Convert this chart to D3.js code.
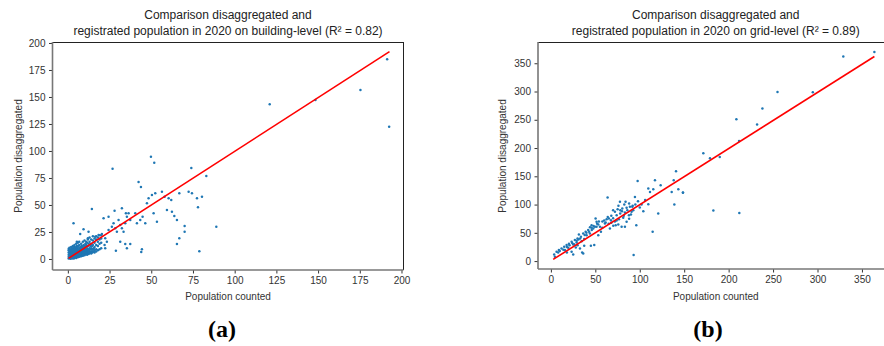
<!DOCTYPE html>
<html>
<head>
<meta charset="utf-8">
<script src="https://cdn.jsdelivr.net/npm/d3@7"></script>
<style>
  body { margin: 0; background: #fff; }
  svg { display: block; }
</style>
</head>
<body>
<div id="chart"></div>
<script>
// ---- data ----
const buildingTitle = ['Comparison disaggregated and', 'registrated population in 2020 on building-level (R\u00b2 = 0.82)'];
const gridTitle = ['Comparison disaggregated and', 'registrated population in 2020 on grid-level (R\u00b2 = 0.89)'];
const xLabel = 'Population counted';
const yLabel = 'Population disaggregated';
const captions = ['(a)', '(b)'];

const buildingXTicks = [0, 25, 50, 75, 100, 125, 150, 175, 200];
const buildingYTicks = [0, 25, 50, 75, 100, 125, 150, 175, 200];
const gridXTicks = [0, 50, 100, 150, 200, 250, 300, 350];
const gridYTicks = [0, 50, 100, 150, 200, 250, 300, 350];

// [counted, disaggregated]
const buildingPoints = [
  [0.5,0.5],[0.5,2],[0.5,4],[0.5,6],[0.5,8],[0.5,9.5],
  [1,1],[1,3],[1,5],[1,7],[1,9],[1,10.5],
  [1.5,0.3],[1.5,2.5],[1.5,4.5],[1.5,6.5],[1.5,8.5],
  [2,1],[2,3],[2,5],[2,7],[2,9],[2,11],
  [2.5,0.5],[2.5,2],[2.5,4],[2.5,6],[2.5,8],[2.5,10],
  [3,1.5],[3,3.5],[3,5.5],[3,7.5],[3,9.5],[3,12],
  [3.5,0.5],[3.5,2.5],[3.5,4.5],[3.5,6.5],[3.5,8.5],[3.5,10.5],
  [4,1],[4,3],[4,5],[4,7],[4,9],[4,11],[4,13],
  [4.5,2],[4.5,4],[4.5,6],[4.5,8],[4.5,10],
  [5,1],[5,3],[5,5],[5,7],[5,9],[5,11],[5,14],
  [5.5,2],[5.5,4],[5.5,6],[5.5,8],[5.5,10],[5.5,12],
  [6,1.5],[6,3],[6,5],[6,7],[6,9],[6,11],[6,15],
  [6.5,2.5],[6.5,4.5],[6.5,6.5],[6.5,8.5],[6.5,12.5],
  [7,2],[7,4],[7,6],[7,8],[7,10],[7,13],
  [7.5,3],[7.5,5],[7.5,7],[7.5,9],[7.5,11],
  [8,2.5],[8,4.5],[8,6.5],[8,8.5],[8,10.5],[8,14],
  [8.5,3.5],[8.5,5.5],[8.5,7.5],[8.5,9.5],[8.5,12],
  [9,3],[9,5],[9,7],[9,9],[9,11],[9,16],
  [9.5,4],[9.5,6],[9.5,8],[9.5,10],[9.5,13],
  [10,3.5],[10,5.5],[10,7.5],[10,9.5],[10,12],[10,17],
  [10.5,4.5],[10.5,6.5],[10.5,8.5],[10.5,11],[10.5,14],
  [11,5],[11,7],[11,9],[11,13],[11,16],
  [11.5,4],[11.5,6],[11.5,8],[11.5,10],[11.5,15],
  [12,5],[12,7],[12,9],[12,12],[12,18],
  [12.5,4.5],[12.5,6.5],[12.5,8.5],[12.5,14],
  [13,5.5],[13,7.5],[13,10],[13,16],[13,20],
  [13.5,6],[13.5,9],[13.5,12],
  [14,5],[14,7],[14,10],[14,14],[14,18],
  [14.5,6],[14.5,8.5],[14.5,12],
  [15,6.5],[15,9],[15,13],[15,17],[15,21],
  [15.5,7],[15.5,10],
  [16,6],[16,8],[16,11],[16,15],[16,19],
  [17,7],[17,9],[17,13],[17,18],[17,21],
  [18,8],[18,12],[18,16],[18,20],
  [19,9],[19,14],[19,18],[19,22],
  [20,10],[20,15],[20,19],[20,22],
  [7.4,23.1],[9.4,27.5],[12.4,25.3],[12,19.1],[5.4,16],[6.8,16],
  [16.4,20.6],[18.4,22.2],[20.4,23.1],[22.4,19.1],[23.4,16],[22,13],[22.4,9.9],
  [24.4,26.9],[26.4,29.9],[27.4,33],[28.4,28.4],[29.4,25.3],[30.4,36.1],[31.4,31.5],
  [32.4,28.4],[33.4,25.3],[34.4,33],[35.4,39.2],[36.4,42.3],[37.4,36.1],
  [24.4,39.2],[21.4,37.7],[28,44.7],[32.4,46.9],[34.8,42.3],
  [31.4,16],[34.4,13.9],[35.4,9.9],[37.4,13.9],[28.8,7.7],
  [40.4,42.3],[41.4,33],[43.4,36.1],[44.8,39.2],[46.4,33],[47.4,51.6],[48.4,56.2],
  [50.4,59.3],[51.4,42.3],[52.4,60.8],[53.4,34.5],[44.4,9],[44,6.5],
  [56.4,62.3],[58,57.7],[60.4,56.2],[62,54.6],
  [59.4,45.4],[62.4,43.8],[63.8,39.8],[65.4,36.1],[66.8,60.8],[72.4,62.3],[74.4,60.8],
  [77.4,56.2],[80.4,57.7],[78,47.9],
  [70,30.5],[70,25.3],[66.8,19.1],[65.4,13.9],[78.8,7.1],
  [42.4,71.3],[43.8,66.7],[49.8,94.7],[51.8,89.2],[26.8,83.6],[74,84.3],[83,76.9],
  [89,29.9],[14.4,46.3],[3.4,33],
  [121,143.2],[148.4,147.2],[175.4,156.5],[191.4,184.9],[192.6,122.5]
];

const gridPoints = [
  [3.7,11.8],[4.5,7.6],[6.4,16.4],[8.2,15.4],[9,19.4],[12,22.4],[15,25.3],[15.8,19.4],
  [17.7,28.3],[19.5,23.5],[20.3,30.6],[23.3,34.1],[25.1,29.5],[27,37.1],[28.9,33],
  [30,40.1],[31.5,47.2],[33.8,42.9],[34.6,35.3],[36.4,48.9],[37.5,38.9],[39.1,51.8],
  [40.2,45.9],[42,54.8],[43.9,48.9],[45.8,58.8],[47.7,57.8],[49.5,60.6],[50.3,75.4],
  [51.4,69.4],[53.3,64.8],[45.8,63.6],[51.4,60.6],[55.2,60.6],[57.8,58.8],[60.8,66.6],
  [56.3,51.8],[53.3,45.9],[48.8,28.3],[45,27.1],[35.2,15.4],[25.1,11.8],[23.3,16.4],
  [32.7,22.4],[37.5,27.1],[36.4,13.6],
  [10,18],[14,20],[18,25],[21,28],[24,32],[26,30],[29,36],[31,38],[33,40],[38,46],
  [40,50],[43,52],[46,55],[48,62],[52,66],[54,70],[44,60],[30,28],[28,24],[18,15],
  [58,70],[60,72],[64,78],[68,80],[70,76],[72,70],[74,72],[78,84],[80,88],[82,80],
  [86,90],[88,102],[92,98],[95,100],[98,106],[100,95],[102,100],[104,88],[106,108],
  [65,66],[68,68],[70,90],[76,98],[84,105],[88,75],
  [63.8,112.5],[77.7,104.8],[82.6,100.2],[85.2,94.2],[88.9,96],[90.8,87.1],[87.8,81.3],
  [83.3,86],[80.3,93.1],[78.1,90.1],[75.1,91.9],[72.1,87.1],[74,81.3],[76.6,74.2],
  [81.4,76.5],[85.2,69.4],[79.6,60.6],[72.9,63.6],[67.6,72.4],[65.3,75.4],[62.7,74.2],
  [61.6,68.4],[66.4,57.8],[70.2,62.4],[75.8,64.8],[83.3,60.6],[90.1,82.5],[92.7,90.1],
  [97.6,141.9],[94.6,113.6],[91.6,96],[96.1,63.6],[93.1,10.6],
  [109.6,100.7],[114.5,51.8],[120.8,84.2],[117.1,143],[109.6,128.4],[115.2,127.2],
  [111.5,122.4],[123.5,134.3],
  [140.8,159],[138.2,143],[135.9,122.4],[143.4,127.2],[148.6,121.4],[138.9,100.2],
  [148.6,121],[171.5,191],[179,182],[190,184],[182.8,89.5],[212,85],
  [208.7,251],[232,241.5],[211.7,212.5],[238,270],[255,299],[294.7,298.6],
  [329,362],[364,370]
];

// regression lines: [start, end]
const buildingFit = [[0.4, 0.6], [192.8, 192]];
const gridFit = [[2.6, 3], [364, 362]];

// ---- drawing ----
const W = 884, H = 346;
const svg = d3.select('#chart').append('svg')
    .attr('width', W).attr('height', H)
    .style('font-family', '"Liberation Sans", Arial, Helvetica, sans-serif');

const panels = [
  {title: buildingTitle, points: buildingPoints, fit: buildingFit,
   xTicks: buildingXTicks, yTicks: buildingYTicks,
   xDomain: [-9.2, 201.2], yDomain: [-10.2, 200.9],
   left: 52.5, right: 403.5, top: 42, bottom: 270, yLabelX: 18, caption: captions[0], capX: 222},
  {title: gridTitle, points: gridPoints, fit: gridFit,
   xTicks: gridXTicks, yTicks: gridYTicks,
   xDomain: [-14.5, 385.5], yDomain: [-14, 387.6],
   left: 538, right: 893.5, top: 42, bottom: 269, yLabelX: 502, caption: captions[1], capX: 708}
];

panels.forEach(function(p) {
  const x = d3.scaleLinear().domain(p.xDomain).range([p.left, p.right]);
  const y = d3.scaleLinear().domain(p.yDomain).range([p.bottom, p.top]);
  const g = svg.append('g');
  const cx = (p.left + p.right) / 2;

  // points
  g.append('g').selectAll('circle')
      .data(p.points)
      .enter()
      .append('circle')
      .attr('cx', d => x(d[0]))
      .attr('cy', d => y(d[1]))
      .attr('r', 1.25)
      .attr('fill', '#1f77b4');

  // fit line
  const line = d3.line().x(d => x(d[0])).y(d => y(d[1]));
  g.append('path')
      .attr('d', line(p.fit))
      .attr('fill', 'none')
      .attr('stroke', '#ff0000')
      .attr('stroke-width', 1.6);

  // axes
  const xAxis = g.append('g')
      .attr('transform', 'translate(0,' + p.bottom + ')')
      .call(d3.axisBottom(x).tickValues(p.xTicks).tickSize(3.5).tickPadding(3.5));
  const yAxis = g.append('g')
      .attr('transform', 'translate(' + p.left + ',0)')
      .call(d3.axisLeft(y).tickValues(p.yTicks).tickSize(3.5).tickPadding(3.5));
  [xAxis, yAxis].forEach(a => {
    a.select('.domain').remove();
    a.selectAll('.tick line').attr('stroke', '#333');
    a.selectAll('.tick text')
        .attr('fill', '#333')
        .style('font-size', '10px')
        .style('font-family', '"Liberation Sans", Arial, sans-serif');
  });

  // spines
  g.append('line').attr('x1', p.left).attr('x2', p.right).attr('y1', p.top + 0.5).attr('y2', p.top + 0.5)
      .attr('stroke', '#222').attr('stroke-width', 1);
  g.append('line').attr('x1', p.right).attr('x2', p.right).attr('y1', p.top).attr('y2', p.bottom)
      .attr('stroke', '#222').attr('stroke-width', 1);
  g.append('line').attr('x1', p.left).attr('x2', p.left).attr('y1', p.top).attr('y2', p.bottom)
      .attr('stroke', '#777').attr('stroke-width', 1.6);
  g.append('line').attr('x1', p.left).attr('x2', p.right).attr('y1', p.bottom).attr('y2', p.bottom)
      .attr('stroke', '#777').attr('stroke-width', 1.6);

  // title
  g.append('text').attr('x', cx).attr('y', 19).attr('text-anchor', 'middle')
      .style('font-size', '12px').attr('fill', '#222').text(p.title[0]);
  g.append('text').attr('x', cx).attr('y', 35).attr('text-anchor', 'middle')
      .style('font-size', '12px').attr('fill', '#222').text(p.title[1]);

  // axis labels
  g.append('text').attr('x', cx).attr('y', 300).attr('text-anchor', 'middle')
      .style('font-size', '10px').attr('fill', '#333').text(xLabel);
  g.append('text')
      .attr('transform', 'translate(' + (p.yLabelX + 3.5) + ',' + 156 + ') rotate(-90)')
      .attr('text-anchor', 'middle')
      .style('font-size', '10px').attr('fill', '#333').text(yLabel);

  // caption
  g.append('text').attr('x', p.capX).attr('y', 337).attr('text-anchor', 'middle')
      .style('font-family', '"Liberation Serif", "DejaVu Serif", serif')
      .style('font-weight', 'bold').style('font-size', '24px')
      .attr('fill', '#000').text(p.caption);
});
</script>
</body>
</html>
